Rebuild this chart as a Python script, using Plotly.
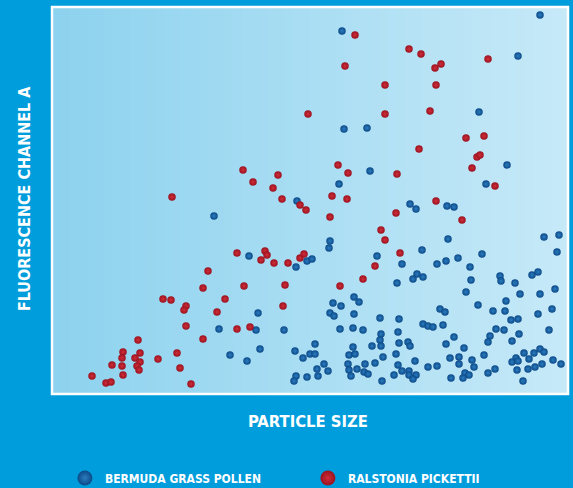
import plotly.graph_objects as go

# Arbitrary units (no ticks on the original chart)
blue_x = [488, 290, 466, 427, 292, 315, 455, 318, 287, 434, 245, 162, 197, 244, 255, 260,
          206, 167, 204, 232, 208, 178, 195, 243, 251, 244, 242, 255, 258, 263,
          358, 364, 278, 277, 325, 370, 350, 365, 361, 371, 345,
          395, 402, 396, 492, 507, 505, 430, 385, 394, 406, 418, 419, 448, 449, 463, 480, 486,
          414, 468, 488, 503, 281, 289, 302, 307, 278, 282, 302, 328, 347, 371, 376, 381, 391,
          288, 301, 311, 329, 328, 329, 346, 347, 356, 358, 263, 301, 297, 303, 320, 331, 344, 363,
          272, 265, 276, 296, 297, 305, 313, 323, 312, 316, 299, 346, 350, 357, 357, 364, 361, 342,
          266, 330, 454, 426, 388, 393, 441, 453, 486, 500, 459, 466, 444, 452, 438, 436, 467, 497,
          460, 402, 394, 412, 432, 472, 482, 488, 492, 464, 460, 466, 477, 501, 509, 398, 407, 420,
          407, 422, 376, 385, 465, 476, 483, 490, 443, 436, 399, 413, 417, 411, 471]
blue_y = [379, 363, 338, 282, 265, 266, 229, 223, 210, 210, 193, 178, 138, 127, 133, 135,
          81, 65, 64, 64, 45, 39, 33, 43, 36, 18, 13, 17, 40, 40,
          190, 185, 153, 146, 138, 144, 130, 120, 115, 117, 111,
          188, 187, 155, 157, 159, 142, 140, 130, 133, 136, 127, 114, 118, 113, 111, 119, 122,
          102, 100, 100, 105, 91, 88, 97, 92, 81, 78, 80, 76, 75, 70, 68, 67, 69,
          65, 66, 64, 60, 54, 48, 62, 51, 52, 48, 50, 47, 39, 40, 48, 37, 40, 33,
          30, 25, 23, 30, 24, 25, 30, 31, 22, 20, 18, 29, 23, 23, 19, 19, 15, 19,
          18, 13, 93, 89, 85, 82, 83, 83, 80, 85, 74, 75, 65, 64, 58, 52, 60, 64,
          53, 57, 50, 46, 39, 41, 41, 45, 42, 36, 32, 33, 35, 34, 30, 36, 37, 34,
          30, 27, 27, 28, 24, 25, 27, 30, 25, 21, 16, 21, 19, 16, 13]

red_x = [303, 357, 369, 293, 383, 389, 436, 333, 384, 256, 333, 378, 414, 432, 367, 286, 296,
         345, 425, 428, 420, 443, 280, 295, 384, 191, 201, 226, 221, 230, 120, 248, 254, 278,
         344, 410, 329, 333, 348, 323, 311, 288, 185, 213, 215, 209, 222, 236, 248, 252, 156,
         151, 192, 233, 111, 119, 134, 132, 173, 165, 231, 134, 185, 198, 151, 86, 71, 70, 88,
         83, 88, 85, 87, 60, 70, 71, 106, 125, 128, 40, 54, 59, 139]
red_y = [359, 345, 340, 328, 326, 330, 335, 309, 309, 280, 280, 283, 256, 258, 245, 229, 221,
         220, 237, 239, 226, 208, 198, 195, 193, 224, 212, 219, 206, 195, 197, 189, 184, 177,
         181, 174, 164, 154, 141, 128, 115, 108, 141, 143, 139, 134, 131, 131, 136, 140, 123,
         106, 108, 109, 95, 94, 88, 84, 95, 82, 88, 68, 65, 67, 55, 54, 42, 36, 41,
         36, 32, 28, 24, 29, 28, 19, 35, 41, 26, 18, 11, 12, 10]

series_names = ["BERMUDA GRASS POLLEN", "RALSTONIA PICKETTII"]
x_title = "PARTICLE SIZE"
y_title = "FLUORESCENCE CHANNEL A"

BLUE_EDGE, BLUE_CENTER = "#0c4a88", "#2b7cbf"
RED_EDGE, RED_CENTER = "#9a1320", "#d02c38"
FONT = "DejaVu Sans Condensed, Liberation Sans, Arial, sans-serif"

fig = go.Figure()
for xs, ys, edge, center in [(blue_x, blue_y, BLUE_EDGE, BLUE_CENTER),
                             (red_x, red_y, RED_EDGE, RED_CENTER)]:
    fig.add_trace(go.Scatter(
        x=xs, y=ys, mode="markers", showlegend=False, hoverinfo="skip",
        marker=dict(size=7.5, color=edge, line=dict(width=0),
                    gradient=dict(type="radial", color=center))))

for name, edge, center in [(series_names[0], BLUE_EDGE, BLUE_CENTER),
                           (series_names[1], RED_EDGE, RED_CENTER)]:
    fig.add_trace(go.Scatter(
        x=[None], y=[None], mode="markers", name=name,
        marker=dict(size=15, color=edge, line=dict(width=0),
                    gradient=dict(type="radial", color=center))))

# horizontal gradient background strips
shapes = []
n = 60
c0 = (141, 210, 238)
c1 = (198, 233, 248)
for i in range(n):
    t = i / (n - 1)
    c = tuple(round(c0[k] + (c1[k] - c0[k]) * t) for k in range(3))
    shapes.append(dict(type="rect", xref="paper", yref="paper",
                       x0=i / n, x1=(i + 1) / n + 0.002, y0=0, y1=1,
                       fillcolor="rgb(%d,%d,%d)" % c, line=dict(width=0), layer="below"))
shapes.append(dict(type="rect", xref="paper", yref="paper", x0=0, x1=1, y0=0, y1=1,
                   line=dict(color="white", width=2.5), fillcolor="rgba(0,0,0,0)", layer="below"))

fig.update_layout(
    width=573, height=488,
    margin=dict(l=52, r=5, t=7, b=94, autoexpand=False),
    paper_bgcolor="#009ddc", plot_bgcolor="#b0def3",
    shapes=shapes,
    xaxis=dict(range=[0, 516], visible=False, fixedrange=True),
    yaxis=dict(range=[0, 387], visible=False, fixedrange=True),
    showlegend=True,
    legend=dict(orientation="h", x=0.025, xanchor="left", y=-0.217, yanchor="middle",
                bgcolor="rgba(0,0,0,0)", entrywidth=198, entrywidthmode="pixels",
                font=dict(family=FONT, size=12, color="white", weight="bold")),
    annotations=[
        dict(text=x_title, xref="paper", yref="paper", x=0.496, y=-0.072,
             showarrow=False, xanchor="center", yanchor="middle",
             font=dict(family=FONT, size=16.5, color="white", weight="bold")),
        dict(text=y_title, xref="paper", yref="paper", x=-0.052, y=0.504, textangle=-90,
             showarrow=False, xanchor="center", yanchor="middle",
             font=dict(family=FONT, size=16, color="white", weight="bold")),
    ],
)

fig.write_html("out.html", config={"displayModeBar": False},
               post_script="document.body.style.margin='0';")
